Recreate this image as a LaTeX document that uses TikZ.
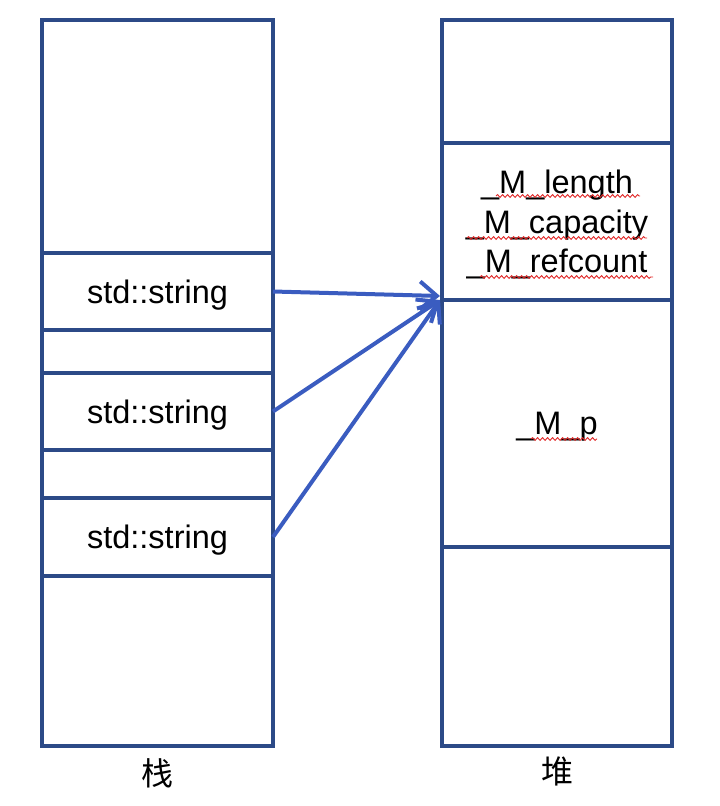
\documentclass[tikz,border=0pt]{standalone}
\usepackage{fontspec}
\setmainfont{Liberation Sans}
\newfontfamily\cjk{Noto Sans CJK SC}
\usetikzlibrary{arrows.meta,decorations.pathmorphing}
\definecolor{boxblue}{HTML}{2C4A87}
\definecolor{arrowblue}{HTML}{3A5CC0}
\definecolor{squigred}{HTML}{E02828}
\begin{document}
\begin{tikzpicture}[x=1bp,y=-1bp,
  cell/.style={draw=boxblue, line width=4.5bp, inner sep=0pt, outer sep=0pt,
    anchor=north west, align=center, text depth=0pt, font=\fontsize{32.5bp}{39.5bp}\selectfont},
  lcell/.style={cell, minimum width=231bp},
  rcell/.style={cell, minimum width=230bp},
  arr/.style={draw=arrowblue, line width=4bp, -{Straight Barb[length=17bp,width=28bp]}},
  squig/.style={draw=squigred, line width=0.9bp, decorate,
    decoration={snake, amplitude=1.4bp, segment length=5bp}},
  lbl/.style={font=\cjk\fontsize{32bp}{38bp}\selectfont, inner sep=0pt}]
\useasboundingbox (0,0) rectangle (720,806);
% stack
\node[lcell, minimum height=233bp] (l0) at (42,20) {};
\node[lcell, minimum height=77bp] (s1) at (42,253) {std::string};
\node[lcell, minimum height=43bp] (g1) at (42,330) {};
\node[lcell, minimum height=77bp] (s2) at (42,373) {std::string};
\node[lcell, minimum height=48bp] (g2) at (42,450) {};
\node[lcell, minimum height=78bp] (s3) at (42,498) {std::string};
\node[lcell, minimum height=170bp] (l6) at (42,576) {};
% heap
\node[rcell, minimum height=123bp] (h0) at (442,20) {};
\node[rcell, minimum height=157bp] (h1) at (442,143) {\_M\_length\\\_M\_capacity\\\_M\_refcount};
\node[rcell, minimum height=247bp] (h2) at (442,300) {\_M\_p};
\node[rcell, minimum height=199bp] (h3) at (442,547) {};
% labels
\node[lbl] (stack) at (157,773) {栈};
\node[lbl] (heap) at (557,771) {堆};
% spell-check squiggles
\draw[squig] (496,196) -- (640,196);
\draw[squig] (467,238) -- (647,238);
\draw[squig] (480,277) -- (653,277);
\draw[squig] (531,439) -- (597,439);
% arrows
\coordinate (t1) at (440,296);
\coordinate (t2) at (440,300);
\draw[arr] (s1.east) -- (t1);
\draw[arr] (s2.east) -- (t2);
\draw[arr] (s3.east) -- (t2);
\end{tikzpicture}
\end{document}
